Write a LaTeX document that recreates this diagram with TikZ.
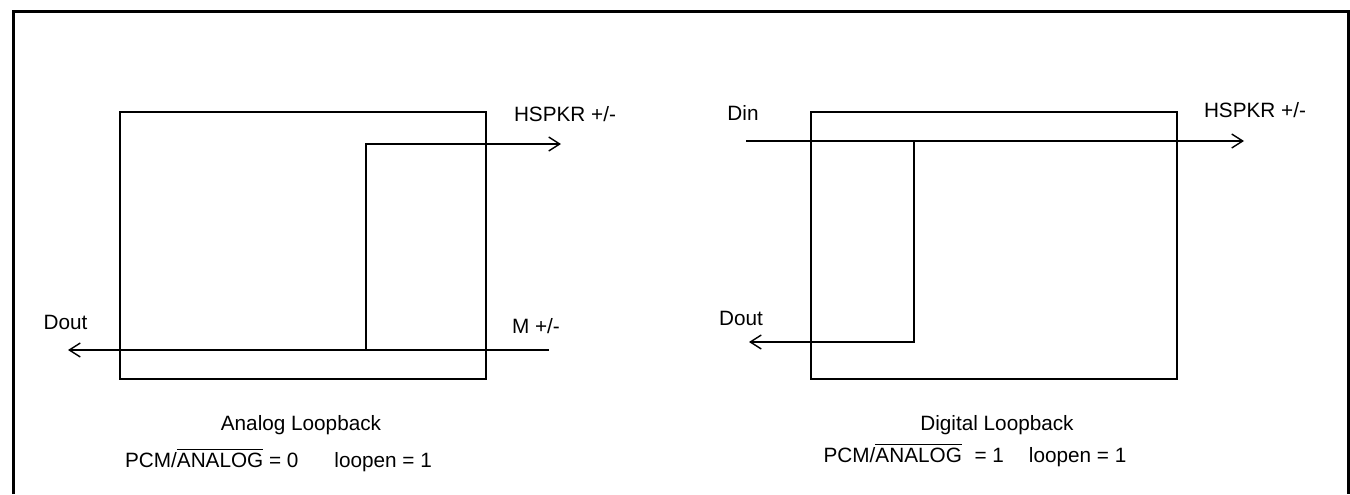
\documentclass[tikz,border=0pt]{standalone}
\usepackage{fontspec}
\setmainfont{Liberation Sans}
\usepackage{amsmath}
\usetikzlibrary{arrows.meta, positioning}

\begin{document}
\begin{tikzpicture}[
    x=0.02cm, y=-0.02cm,
    every node/.style={font=\fontsize{11.8}{14}\selectfont, inner sep=0pt},
    chip/.style={draw, line width=0.8pt, minimum width=7.32cm, minimum height=5.34cm},
    wire/.style={line width=0.8pt, -{Straight Barb[length=2.2mm, width=2.8mm]}}
]
\useasboundingbox (0,0) rectangle (1350,494);

% Outer frame (open at the bottom)
\draw[line width=1.2pt] (13.5,494) -- (13.5,11.5) -- (1348.5,11.5) -- (1348.5,494);

% ANALOG LOOPBACK
\node[chip] (abox) at (303,245.5) {};

\coordinate (ain)  at (549,350);
\coordinate (aout) at (68,350);
\coordinate (atap) at (366,350);
\coordinate (aspk) at (561,144);

\node (aspklbl) at (565,114) {HSPKR +/-};
\node (ainlbl)  at (536,326) {M +/-};
\node (aoutlbl) at (65.5,322) {Dout};

\node (atitle) at (301,425) {Analog Loopback};
\node (acfg)   at (278.5,460) {PCM/$\overline{\mbox{ANALOG}}$ = 0\hspace{0.72cm}loopen = 1};

% DIGITAL LOOPBACK
\node[chip] (dbox) at (994,245.5) {};

\coordinate (din)  at (746,141);
\coordinate (dspk) at (1244,141);
\coordinate (dtap) at (914,141);
\coordinate (dout) at (749,342);

\node (dinlbl)  at (743,113) {Din};
\node (dspklbl) at (1255,110) {HSPKR +/-};
\node (doutlbl) at (741,318) {Dout};

\node (dtitle) at (997,425) {Digital Loopback};
\node (dcfg)   at (975,455) {PCM/$\overline{\mbox{ANALOG}}$\,\, = 1\hspace{0.5cm}loopen = 1};

% Arrows
\foreach \i/\j in {ain/aout, din/dspk}
    \draw[wire] (\i) -- (\j);
\foreach \i/\j in {atap/aspk, dtap/dout}
    \draw[wire] (\i) |- (\j);

\end{tikzpicture}
\end{document}
